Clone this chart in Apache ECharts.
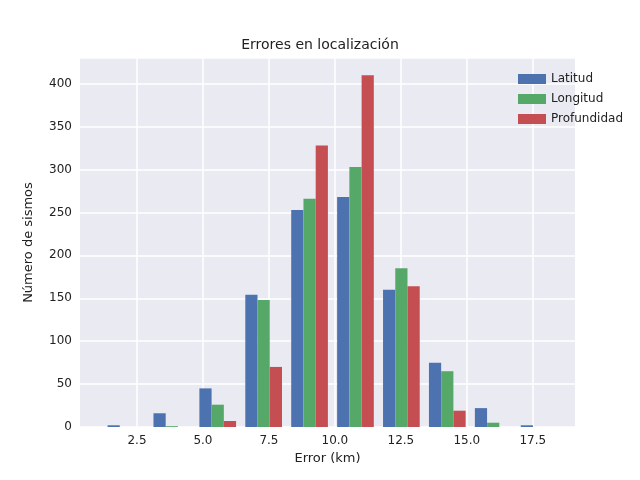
<!DOCTYPE html><html><head><meta charset="utf-8"><script src="https://cdn.jsdelivr.net/npm/echarts@6/dist/echarts.min.js"></script></head><body style="margin:0"><div id="c" style="width:640px;height:480px"></div><script>
const binStart=1.21, binWidth=1.74;
const xTicks=[2.5,5.0,7.5,10.0,12.5,15.0,17.5];
const names=['Latitud','Longitud','Profundidad'];
const latitud=[2,16,45,154,253,268,160,75,22,2];
const longitud=[0,1,26,148,266,303,185,65,5,0];
const profundidad=[0,0,7,70,328,410,164,19,0,0];
const colors=['#4C72B0','#55A868','#C44E52'];
const vals=[latitud,longitud,profundidad];
const ch=echarts.init(document.getElementById('c'));
const series=vals.map((v,s)=>({name:names[s],type:'bar',barGap:'-100%',barWidth:12.2,itemStyle:{color:colors[s]},
 data:v.map((y,i)=>[binStart+i*binWidth+binWidth*0.1+(s+0.5)*binWidth*0.8/3,y])}));
ch.setOption({animation:false,
 title:{text:'Errores en localización',left:'center',top:33,textStyle:{fontFamily:'DejaVu Sans',fontWeight:'normal',fontSize:14,color:'#222'}},
 legend:{right:12,top:68,orient:'vertical',itemWidth:28,itemHeight:10,itemGap:8,icon:'rect',textStyle:{fontFamily:'DejaVu Sans',fontSize:12,color:'#222'}},
 grid:{left:80,right:65,top:58,bottom:53,show:true,backgroundColor:'#EAEAF2',borderWidth:0},
 xAxis:{type:'value',min:0.34,max:19.1,name:'Error (km)',nameLocation:'middle',nameGap:22,nameTextStyle:{fontFamily:'DejaVu Sans',fontSize:13,color:'#222'},
  axisLine:{show:false},axisTick:{show:false,customValues:xTicks},axisLabel:{customValues:xTicks,formatter:v=>v.toFixed(1),fontFamily:'DejaVu Sans',fontSize:12,color:'#222'},
  splitLine:{show:true,lineStyle:{color:'#fff',width:1.5}}},
 yAxis:{type:'value',min:0,max:430,interval:50,name:'Número de sismos',nameLocation:'middle',nameGap:45,nameTextStyle:{fontFamily:'DejaVu Sans',fontSize:13,color:'#222'},
  axisLine:{show:false},axisTick:{show:false},axisLabel:{fontFamily:'DejaVu Sans',fontSize:12,color:'#222',showMaxLabel:false},
  splitLine:{lineStyle:{color:'#fff',width:1.5}}},
 series});
</script></body></html>
